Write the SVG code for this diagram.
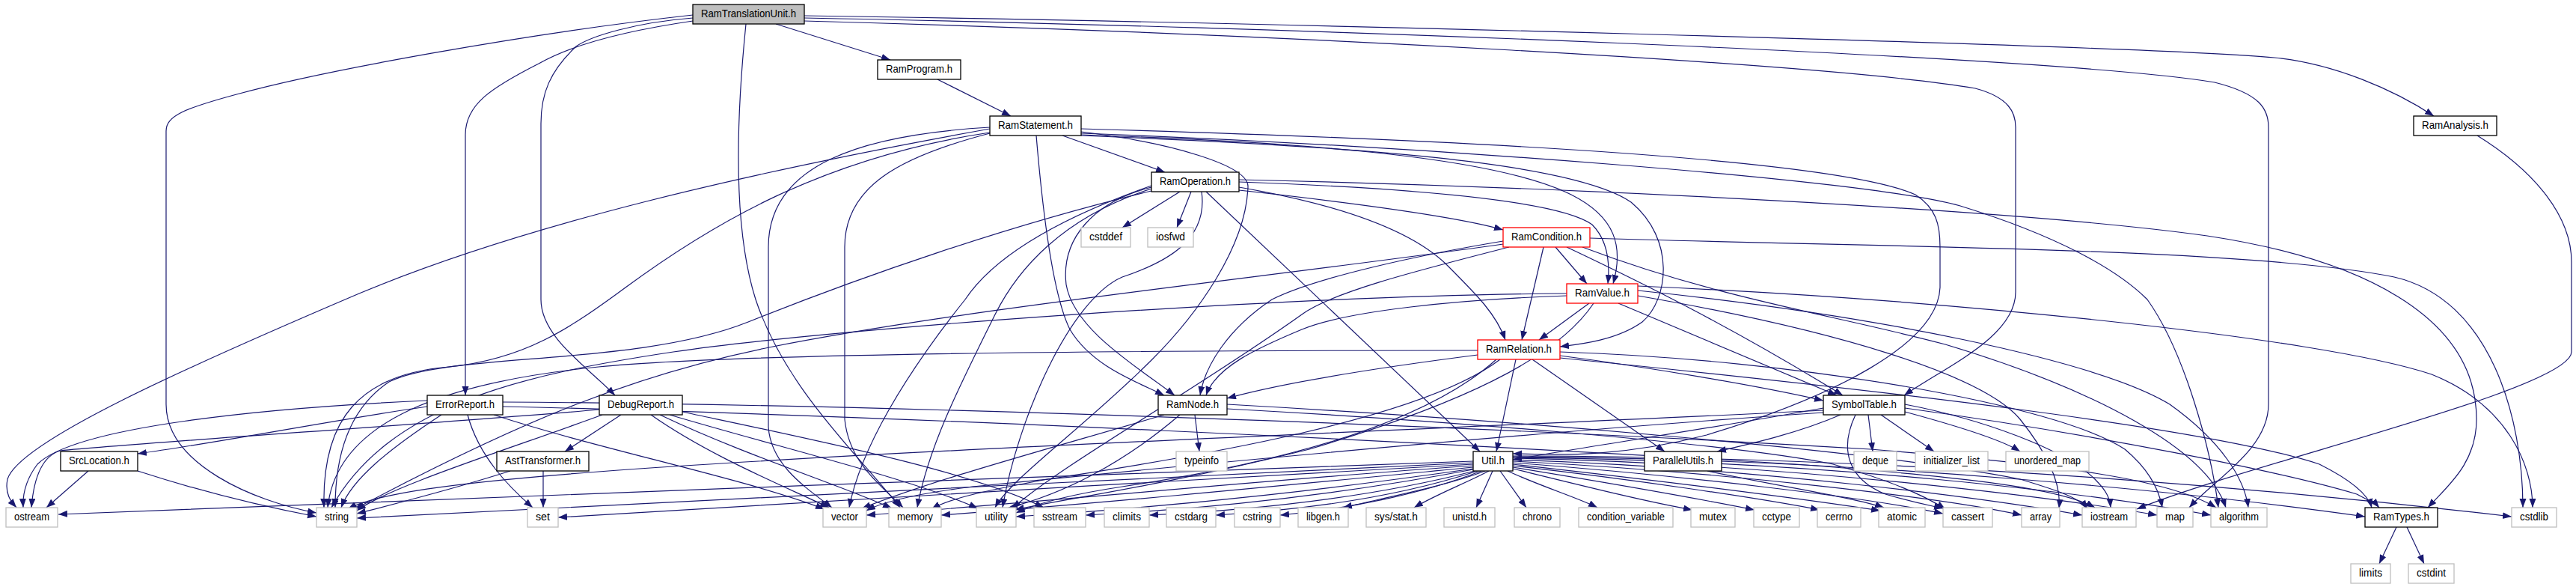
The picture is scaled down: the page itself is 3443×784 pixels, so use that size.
<svg xmlns="http://www.w3.org/2000/svg" width="3443" height="784" viewBox="0 0 3443 784">
<style>
.e{fill:none;stroke:#191970;stroke-width:1.2;marker-end:url(#ah)}
.b{fill:#fff;stroke:#000;stroke-width:1.3}
.x{fill:#fff;stroke:#bfbfbf;stroke-width:1.3}
.r{fill:#fff;stroke:#ff0000;stroke-width:1.3}
.g{fill:#bfbfbf;stroke:#000;stroke-width:1.3}
text{font-family:"Liberation Sans",Arial,sans-serif;font-size:15px;fill:#000;text-anchor:middle}
</style>
<defs>
<marker id="ah" markerUnits="userSpaceOnUse" markerWidth="12" markerHeight="10" refX="12" refY="4.5" orient="auto">
<path d="M0,0 L12,4.5 L0,9 z" fill="#191970"/>
</marker>
</defs>
<rect width="3443" height="784" fill="#fff"/>
<g id="edges">
<path class="e" d="M1037,32 L1190,80"/>
<path class="e" d="M1075,21 C1600,28 2850,60 3040,77 C3120,85 3200,120 3253,155"/>
<path class="e" d="M1075,24 C1700,35 2750,75 2960,110 C3020,125 3032,145 3032,170 L3032,540 C3032,600 2960,640 2926,678"/>
<path class="e" d="M1075,28 C1700,45 2450,85 2640,118 C2685,130 2694,150 2694,170 L2694,390 C2694,450 2600,490 2545,528"/>
<path class="e" d="M926,28 C830,42 760,62 720,85 C655,118 622,140 622,180 L622,528"/>
<path class="e" d="M926,24 C850,30 790,48 770,62 C735,95 723,125 723,165 L723,400 C723,450 785,490 822,528"/>
<path class="e" d="M926,20 C700,45 430,95 320,125 C245,145 222,155 222,175 L222,540 C222,620 340,670 423,685"/>
<path class="e" d="M997,32 C985,150 978,300 1010,400 C1050,520 1150,610 1203,678"/>
<path class="e" d="M1253,106 L1351,155"/>
<path class="e" d="M1420,181 L1557,230"/>
<path class="e" d="M1323,172 C1000,230 700,300 480,392 C250,490 25,590 10,640 C6,660 15,670 22,678"/>
<path class="e" d="M1323,177 C1100,210 950,300 836,384 C760,440 700,480 600,490 C480,500 430,560 433,678"/>
<path class="e" d="M1323,170 C1150,180 1027,220 1027,330 L1027,570 C1030,620 1075,650 1112,678"/>
<path class="e" d="M1323,178 C1200,210 1129,250 1129,330 L1129,560 C1135,620 1180,650 1207,678"/>
<path class="e" d="M1385,181 C1395,300 1410,400 1430,440 C1460,490 1520,510 1556,528"/>
<path class="e" d="M1445,176 C1560,190 1670,220 1668,250 C1665,330 1600,420 1540,480 C1450,570 1350,640 1330,678"/>
<path class="e" d="M1445,172 C1900,185 2450,210 2560,260 C2588,278 2593,300 2593,330 L2593,384 C2590,460 2450,530 2281,581 C2150,615 2060,606 2022,606"/>
<path class="e" d="M1445,178 C1900,195 2500,240 2620,275 C2750,315 2830,360 2870,400 C2920,470 2955,600 2965,678"/>
<path class="e" d="M1445,180 C1750,190 2000,210 2100,260 C2160,290 2170,330 2156,379"/>
<path class="e" d="M1445,181 C1800,195 2100,215 2180,270 C2240,320 2230,400 2195,430 C2160,455 2110,460 2085,463"/>
<path class="e" d="M1656,254 C1800,270 1950,290 2009,307"/>
<path class="e" d="M1656,243 C1850,250 2080,265 2128,300 C2148,320 2152,350 2149,379"/>
<path class="e" d="M1656,250 C1800,275 1890,310 1935,355 C1975,395 2000,420 2012,454"/>
<path class="e" d="M1612,256 L1978,603"/>
<path class="e" d="M1539,250 C1460,270 1418,320 1425,380 C1435,440 1520,490 1570,528"/>
<path class="e" d="M1539,252 C1420,290 1360,360 1330,420 C1280,520 1240,600 1226,678"/>
<path class="e" d="M1539,248 C1420,290 1330,340 1290,400 C1210,500 1150,600 1135,678"/>
<path class="e" d="M1539,255 C1350,300 1150,370 1000,430 C850,490 600,470 520,510 C460,550 448,620 448,678"/>
<path class="e" d="M1606,256 C1615,320 1560,350 1500,370 C1430,400 1360,560 1340,678"/>
<path class="e" d="M1577,256 L1500,304"/>
<path class="e" d="M1592,256 L1573,304"/>
<path class="e" d="M1656,240 C2100,250 2700,280 2950,315 C3150,345 3310,420 3310,560 C3310,620 3270,650 3245,678"/>
<path class="e" d="M2079,330 L2121,379"/>
<path class="e" d="M2063,330 L2034,454"/>
<path class="e" d="M2009,322 C1900,340 1760,370 1700,400 C1640,440 1610,490 1604,528"/>
<path class="e" d="M2094,330 C2200,380 2320,440 2463,528"/>
<path class="e" d="M2009,326 C1700,370 1300,410 1028,464 C850,500 700,560 474,680"/>
<path class="e" d="M2017,330 C1900,360 1780,390 1740,420 C1600,520 1420,620 1353,679"/>
<path class="e" d="M2125,318 C2500,330 3000,330 3200,370 C3330,400 3372,560 3372,678"/>
<path class="e" d="M2115,330 C2300,400 2450,420 2600,460 C2800,520 2950,600 2975,678"/>
<path class="e" d="M2124,405 L2057,454"/>
<path class="e" d="M2094,395 C1950,400 1800,415 1740,440 C1680,465 1625,490 1612,528"/>
<path class="e" d="M2163,405 L2455,528"/>
<path class="e" d="M2094,392 C1700,395 1100,440 900,470 C700,500 520,540 443,678"/>
<path class="e" d="M2130,405 C2080,480 1950,540 1750,600 C1550,650 1400,670 1357,681"/>
<path class="e" d="M2189,388 C2500,420 2800,480 2900,540 C2970,590 3000,640 3005,678"/>
<path class="e" d="M2189,395 C2450,440 2650,500 2700,560 C2740,610 2755,650 2752,679"/>
<path class="e" d="M2189,382 C2600,400 3100,450 3250,500 C3350,540 3385,620 3385,678"/>
<path class="e" d="M1975,474 C1850,490 1720,510 1640,532"/>
<path class="e" d="M1975,468 C1600,468 1000,470 800,490 C600,510 450,560 438,678"/>
<path class="e" d="M2085,475 C2200,490 2350,515 2437,535"/>
<path class="e" d="M2048,480 L2225,603"/>
<path class="e" d="M2026,480 L2000,603"/>
<path class="e" d="M2085,478 C2500,520 2950,570 3100,620 C3140,640 3165,660 3170,678"/>
<path class="e" d="M2085,470 C2400,480 2750,540 2840,600 C2870,625 2885,650 2890,678"/>
<path class="e" d="M2005,480 C1900,560 1600,610 1400,640 C1320,655 1270,665 1245,680"/>
<path class="e" d="M2000,480 C1900,570 1700,620 1500,650 C1420,662 1380,675 1358,685"/>
<path class="e" d="M571,543 C450,560 300,590 184,606"/>
<path class="e" d="M571,535 C350,545 100,570 50,620 C35,640 30,660 31,678"/>
<path class="e" d="M590,554 C520,600 470,640 456,678"/>
<path class="e" d="M625,554 C640,610 680,650 712,678"/>
<path class="e" d="M660,554 C800,600 1000,640 1102,680"/>
<path class="e" d="M672,537 C1200,540 2000,570 2500,600 C2750,620 2900,640 2962,678"/>
<path class="e" d="M672,543 C1200,555 1900,590 2400,620 C2600,635 2750,650 2800,678"/>
<path class="e" d="M830,554 L755,603"/>
<path class="e" d="M801,547 C600,565 200,590 80,602 C55,610 45,640 42,678"/>
<path class="e" d="M805,554 C680,600 520,650 477,682"/>
<path class="e" d="M870,554 C950,610 1050,650 1108,678"/>
<path class="e" d="M882,554 C1000,610 1130,650 1192,679"/>
<path class="e" d="M895,554 C1050,600 1220,640 1307,679"/>
<path class="e" d="M912,550 C1100,590 1300,630 1395,678"/>
<path class="e" d="M118,629 L62,678"/>
<path class="e" d="M184,629 C280,660 370,680 423,690"/>
<path class="e" d="M682,629 C600,655 520,675 477,686"/>
<path class="e" d="M726,629 L726,678"/>
<path class="e" d="M1597,554 L1603,603"/>
<path class="e" d="M1556,554 C1400,600 1250,640 1152,679"/>
<path class="e" d="M1577,554 C1500,620 1420,660 1348,678"/>
<path class="e" d="M1640,540 C2000,560 2500,600 2700,640 C2750,655 2780,665 2790,680"/>
<path class="e" d="M1640,546 C1900,560 2300,590 2450,620 C2520,640 2570,660 2600,680"/>
<path class="e" d="M2437,545 C2300,570 2100,600 2022,614"/>
<path class="e" d="M2460,554 C2400,580 2330,595 2295,603"/>
<path class="e" d="M2497,554 L2503,603"/>
<path class="e" d="M2514,554 L2585,603"/>
<path class="e" d="M2546,550 C2620,570 2680,590 2700,603"/>
<path class="e" d="M2480,554 C2458,600 2470,640 2520,660 C2560,672 2580,675 2597,679"/>
<path class="e" d="M2546,540 C2650,560 2760,600 2800,640 C2815,655 2820,665 2821,678"/>
<path class="e" d="M2437,548 C2000,570 1200,600 800,630 C600,645 500,660 465,680"/>
<path class="e" d="M2437,551 C2000,580 1500,630 1300,650 C1220,660 1180,670 1158,682"/>
<path class="e" d="M2546,545 C2800,580 3050,630 3150,660 C3165,668 3175,672 3180,678"/>
<path class="e" d="M2282,629 C2380,650 2480,665 2518,678"/>
<path class="e" d="M1969,616 C1500,635 400,670 78,687"/>
<path class="e" d="M1969,618 C1500,640 700,680 477,692"/>
<path class="e" d="M1969,620 C1600,640 1000,675 746,691"/>
<path class="e" d="M1969,622 C1700,640 1400,670 1158,688"/>
<path class="e" d="M1969,624 C1750,645 1500,670 1258,688"/>
<path class="e" d="M1969,626 C1800,650 1600,675 1358,690"/>
<path class="e" d="M1969,627 C1820,655 1650,678 1451,688"/>
<path class="e" d="M1971,629 C1850,660 1700,680 1536,688"/>
<path class="e" d="M1975,629 C1880,660 1760,680 1625,688"/>
<path class="e" d="M1980,629 C1900,660 1800,680 1711,688"/>
<path class="e" d="M1985,629 C1930,650 1850,665 1795,678"/>
<path class="e" d="M1990,629 C1960,645 1920,660 1890,678"/>
<path class="e" d="M1995,629 L1973,678"/>
<path class="e" d="M2005,629 L2040,678"/>
<path class="e" d="M2015,629 C2060,650 2110,665 2135,678"/>
<path class="e" d="M2022,626 C2120,650 2200,670 2262,681"/>
<path class="e" d="M2022,624 C2150,645 2280,668 2345,681"/>
<path class="e" d="M2022,622 C2180,640 2350,665 2432,681"/>
<path class="e" d="M2022,620 C2200,640 2400,665 2513,682"/>
<path class="e" d="M2022,618 C2250,635 2500,665 2597,686"/>
<path class="e" d="M2022,616 C2300,630 2600,665 2702,688"/>
<path class="e" d="M2022,614 C2350,625 2650,665 2783,688"/>
<path class="e" d="M2022,612 C2400,620 2750,665 2883,688"/>
<path class="e" d="M2022,611 C2450,615 2800,660 2955,688"/>
<path class="e" d="M2022,610 C2500,612 2950,660 3161,690"/>
<path class="e" d="M2022,609 C2600,610 3100,660 3357,690"/>
<path class="e" d="M3311,181 C3390,230 3437,290 3437,350 L3437,470 C3437,520 3000,620 2856,680"/>
<path class="e" d="M3203,704 L3180,753"/>
<path class="e" d="M3217,704 L3240,753"/>
</g>
<g id="n_RamTranslationUnit"><rect class="g" x="926" y="6" width="149" height="26"/><text x="1000.5" y="23" textLength="127" lengthAdjust="spacingAndGlyphs">RamTranslationUnit.h</text></g>
<g id="n_RamProgram"><rect class="b" x="1173" y="80" width="111" height="26"/><text x="1228.5" y="97" textLength="89" lengthAdjust="spacingAndGlyphs">RamProgram.h</text></g>
<g id="n_RamStatement"><rect class="b" x="1323" y="155" width="122" height="26"/><text x="1384" y="172" textLength="100" lengthAdjust="spacingAndGlyphs">RamStatement.h</text></g>
<g id="n_RamAnalysis"><rect class="b" x="3226" y="155" width="111" height="26"/><text x="3281.5" y="172" textLength="89" lengthAdjust="spacingAndGlyphs">RamAnalysis.h</text></g>
<g id="n_RamOperation"><rect class="b" x="1539" y="230" width="117" height="26"/><text x="1597.5" y="247" textLength="95" lengthAdjust="spacingAndGlyphs">RamOperation.h</text></g>
<g id="n_cstddef"><rect class="x" x="1445" y="304" width="66" height="26"/><text x="1478" y="321" textLength="44" lengthAdjust="spacingAndGlyphs">cstddef</text></g>
<g id="n_iosfwd"><rect class="x" x="1534" y="304" width="61" height="26"/><text x="1564.5" y="321" textLength="39" lengthAdjust="spacingAndGlyphs">iosfwd</text></g>
<g id="n_RamCondition"><rect class="r" x="2009" y="304" width="116" height="26"/><text x="2067" y="321" textLength="94" lengthAdjust="spacingAndGlyphs">RamCondition.h</text></g>
<g id="n_RamValue"><rect class="r" x="2094" y="379" width="95" height="26"/><text x="2141.5" y="396" textLength="73" lengthAdjust="spacingAndGlyphs">RamValue.h</text></g>
<g id="n_RamRelation"><rect class="r" x="1975" y="454" width="110" height="26"/><text x="2030" y="471" textLength="88" lengthAdjust="spacingAndGlyphs">RamRelation.h</text></g>
<g id="n_ErrorReport"><rect class="b" x="571" y="528" width="101" height="26"/><text x="621.5" y="545" textLength="79" lengthAdjust="spacingAndGlyphs">ErrorReport.h</text></g>
<g id="n_DebugReport"><rect class="b" x="801" y="528" width="111" height="26"/><text x="856.5" y="545" textLength="89" lengthAdjust="spacingAndGlyphs">DebugReport.h</text></g>
<g id="n_RamNode"><rect class="b" x="1548" y="528" width="92" height="26"/><text x="1594" y="545" textLength="70" lengthAdjust="spacingAndGlyphs">RamNode.h</text></g>
<g id="n_SymbolTable"><rect class="b" x="2437" y="528" width="109" height="26"/><text x="2491.5" y="545" textLength="87" lengthAdjust="spacingAndGlyphs">SymbolTable.h</text></g>
<g id="n_SrcLocation"><rect class="b" x="81" y="603" width="103" height="26"/><text x="132.5" y="620" textLength="81" lengthAdjust="spacingAndGlyphs">SrcLocation.h</text></g>
<g id="n_AstTransformer"><rect class="b" x="664" y="603" width="123" height="26"/><text x="725.5" y="620" textLength="101" lengthAdjust="spacingAndGlyphs">AstTransformer.h</text></g>
<g id="n_typeinfo"><rect class="x" x="1572" y="603" width="68" height="26"/><text x="1606" y="620" textLength="46" lengthAdjust="spacingAndGlyphs">typeinfo</text></g>
<g id="n_Util"><rect class="b" x="1969" y="603" width="53" height="26"/><text x="1995.5" y="620" textLength="31" lengthAdjust="spacingAndGlyphs">Util.h</text></g>
<g id="n_ParallelUtils"><rect class="b" x="2198" y="603" width="103" height="26"/><text x="2249.5" y="620" textLength="81" lengthAdjust="spacingAndGlyphs">ParallelUtils.h</text></g>
<g id="n_deque"><rect class="x" x="2478" y="603" width="57" height="26"/><text x="2506.5" y="620" textLength="35" lengthAdjust="spacingAndGlyphs">deque</text></g>
<g id="n_initializer_list"><rect class="x" x="2560" y="603" width="97" height="26"/><text x="2608.5" y="620" textLength="75" lengthAdjust="spacingAndGlyphs">initializer_list</text></g>
<g id="n_unordered_map"><rect class="x" x="2681" y="603" width="111" height="26"/><text x="2736.5" y="620" textLength="89" lengthAdjust="spacingAndGlyphs">unordered_map</text></g>
<g id="n_ostream"><rect class="x" x="8" y="678" width="69" height="26"/><text x="42.5" y="695" textLength="47" lengthAdjust="spacingAndGlyphs">ostream</text></g>
<g id="n_string"><rect class="x" x="423" y="678" width="54" height="26"/><text x="450" y="695" textLength="32" lengthAdjust="spacingAndGlyphs">string</text></g>
<g id="n_set"><rect class="x" x="705" y="678" width="41" height="26"/><text x="725.5" y="695" textLength="19" lengthAdjust="spacingAndGlyphs">set</text></g>
<g id="n_vector"><rect class="x" x="1100" y="678" width="58" height="26"/><text x="1129" y="695" textLength="36" lengthAdjust="spacingAndGlyphs">vector</text></g>
<g id="n_memory"><rect class="x" x="1188" y="678" width="70" height="26"/><text x="1223" y="695" textLength="48" lengthAdjust="spacingAndGlyphs">memory</text></g>
<g id="n_utility"><rect class="x" x="1305" y="678" width="53" height="26"/><text x="1331.5" y="695" textLength="31" lengthAdjust="spacingAndGlyphs">utility</text></g>
<g id="n_sstream"><rect class="x" x="1382" y="678" width="69" height="26"/><text x="1416.5" y="695" textLength="47" lengthAdjust="spacingAndGlyphs">sstream</text></g>
<g id="n_climits"><rect class="x" x="1476" y="678" width="60" height="26"/><text x="1506" y="695" textLength="38" lengthAdjust="spacingAndGlyphs">climits</text></g>
<g id="n_cstdarg"><rect class="x" x="1559" y="678" width="66" height="26"/><text x="1592" y="695" textLength="44" lengthAdjust="spacingAndGlyphs">cstdarg</text></g>
<g id="n_cstring"><rect class="x" x="1650" y="678" width="61" height="26"/><text x="1680.5" y="695" textLength="39" lengthAdjust="spacingAndGlyphs">cstring</text></g>
<g id="n_libgen"><rect class="x" x="1735" y="678" width="67" height="26"/><text x="1768.5" y="695" textLength="45" lengthAdjust="spacingAndGlyphs">libgen.h</text></g>
<g id="n_sysstat"><rect class="x" x="1826" y="678" width="80" height="26"/><text x="1866" y="695" textLength="58" lengthAdjust="spacingAndGlyphs">sys/stat.h</text></g>
<g id="n_unistd"><rect class="x" x="1930" y="678" width="68" height="26"/><text x="1964" y="695" textLength="46" lengthAdjust="spacingAndGlyphs">unistd.h</text></g>
<g id="n_chrono"><rect class="x" x="2024" y="678" width="61" height="26"/><text x="2054.5" y="695" textLength="39" lengthAdjust="spacingAndGlyphs">chrono</text></g>
<g id="n_condition_variable"><rect class="x" x="2110" y="678" width="126" height="26"/><text x="2173" y="695" textLength="104" lengthAdjust="spacingAndGlyphs">condition_variable</text></g>
<g id="n_mutex"><rect class="x" x="2260" y="678" width="59" height="26"/><text x="2289.5" y="695" textLength="37" lengthAdjust="spacingAndGlyphs">mutex</text></g>
<g id="n_cctype"><rect class="x" x="2344" y="678" width="61" height="26"/><text x="2374.5" y="695" textLength="39" lengthAdjust="spacingAndGlyphs">cctype</text></g>
<g id="n_cerrno"><rect class="x" x="2429" y="678" width="58" height="26"/><text x="2458" y="695" textLength="36" lengthAdjust="spacingAndGlyphs">cerrno</text></g>
<g id="n_atomic"><rect class="x" x="2511" y="678" width="62" height="26"/><text x="2542" y="695" textLength="40" lengthAdjust="spacingAndGlyphs">atomic</text></g>
<g id="n_cassert"><rect class="x" x="2597" y="678" width="66" height="26"/><text x="2630" y="695" textLength="44" lengthAdjust="spacingAndGlyphs">cassert</text></g>
<g id="n_array"><rect class="x" x="2702" y="678" width="51" height="26"/><text x="2727.5" y="695" textLength="29" lengthAdjust="spacingAndGlyphs">array</text></g>
<g id="n_iostream"><rect class="x" x="2783" y="678" width="72" height="26"/><text x="2819" y="695" textLength="50" lengthAdjust="spacingAndGlyphs">iostream</text></g>
<g id="n_map"><rect class="x" x="2883" y="678" width="48" height="26"/><text x="2907" y="695" textLength="26" lengthAdjust="spacingAndGlyphs">map</text></g>
<g id="n_algorithm"><rect class="x" x="2955" y="678" width="75" height="26"/><text x="2992.5" y="695" textLength="53" lengthAdjust="spacingAndGlyphs">algorithm</text></g>
<g id="n_RamTypes"><rect class="b" x="3161" y="678" width="97" height="26"/><text x="3209.5" y="695" textLength="75" lengthAdjust="spacingAndGlyphs">RamTypes.h</text></g>
<g id="n_cstdlib"><rect class="x" x="3357" y="678" width="60" height="26"/><text x="3387" y="695" textLength="38" lengthAdjust="spacingAndGlyphs">cstdlib</text></g>
<g id="n_limits"><rect class="x" x="3142" y="753" width="53" height="26"/><text x="3168.5" y="770" textLength="31" lengthAdjust="spacingAndGlyphs">limits</text></g>
<g id="n_cstdint"><rect class="x" x="3219" y="753" width="61" height="26"/><text x="3249.5" y="770" textLength="39" lengthAdjust="spacingAndGlyphs">cstdint</text></g>
</svg>
